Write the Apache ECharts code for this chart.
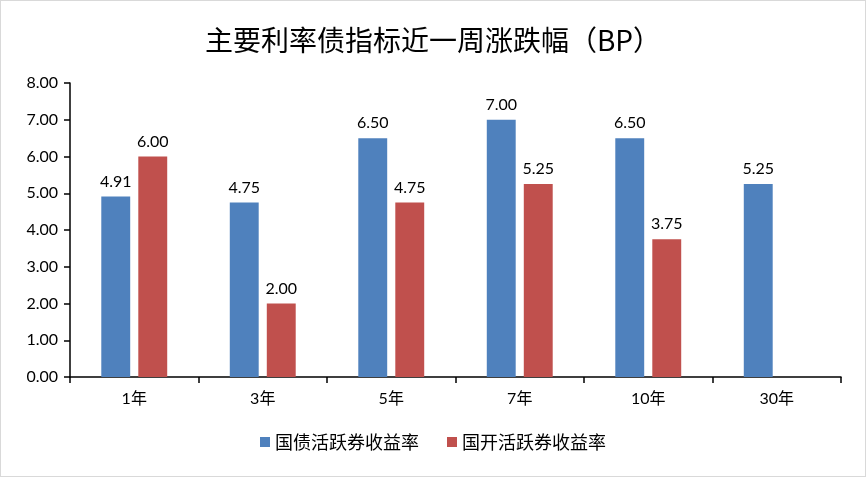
<!DOCTYPE html>
<html>
<head>
<meta charset="utf-8">
<script src="https://cdn.jsdelivr.net/npm/echarts@6/dist/echarts.min.js"></script>
<style>
  html, body { margin: 0; padding: 0; background: #fff; }
  #chart { width: 866px; height: 477px; box-sizing: border-box; border: 1px solid #d9d9d9; }
</style>
</head>
<body>
<div id="chart"></div>
<script>
// 期限
const categories = ["1年", "3年", "5年", "7年", "10年", "30年"]
// 国债活跃券收益率（BP）
const guozhai = [4.91, 4.75, 6.50, 7.00, 6.50, 5.25]
// 国开活跃券收益率（BP），30年没有数据
const guokai = [6.00, 2.00, 4.75, 5.25, 3.75, null]

const font = "Lato, 'Noto Sans CJK SC', sans-serif"
const chart = echarts.init(document.getElementById("chart"))

const barLabel = {
    show: true, position: "top", distance: 7,
    color: "#000", fontSize: 16, fontFamily: font,
    formatter: p => p.value == null ? "" : p.value.toFixed(2)
}

chart.setOption({
    animation: false,
    title: {
        text: "主要利率债指标近一周涨跌幅（BP）",
        left: "center", top: 20,
        textStyle: {fontFamily: "'Noto Sans CJK SC', sans-serif", fontSize: 28, fontWeight: "normal", color: "#000"}
    },
    legend: {
        bottom: 20, left: "center", itemGap: 28,
        itemWidth: 10, itemHeight: 10,
        icon: "rect",
        textStyle: {fontFamily: "'Noto Sans CJK SC', sans-serif", fontSize: 18, color: "#000"},
        data: ["国债活跃券收益率", "国开活跃券收益率"]
    },
    grid: {left: 69, right: 24, top: 82, bottom: 99},
    xAxis: {
        type: "category",
        data: categories,
        axisLine: {lineStyle: {color: "#000", width: 1.5}},
        axisTick: {show: true, length: 6, lineStyle: {color: "#000", width: 1.5}},
        axisLabel: {color: "#000", fontSize: 16, fontFamily: font, margin: 14}
    },
    yAxis: {
        type: "value", min: 0, max: 8, interval: 1,
        axisLine: {show: true, lineStyle: {color: "#000", width: 1.5}},
        axisTick: {show: true, length: 6, lineStyle: {color: "#000", width: 1.5}},
        splitLine: {show: false},
        axisLabel: {color: "#000", fontSize: 16, fontFamily: font, margin: 12, formatter: v => v.toFixed(2)}
    },
    series: [
        {
            name: "国债活跃券收益率", type: "bar", data: guozhai,
            barWidth: "22.5%", barGap: "28%",
            itemStyle: {color: "#4F81BD"},
            label: barLabel
        },
        {
            name: "国开活跃券收益率", type: "bar", data: guokai,
            barWidth: "22.5%",
            itemStyle: {color: "#C0504D"},
            label: barLabel
        }
    ]
})
</script>
</body>
</html>
